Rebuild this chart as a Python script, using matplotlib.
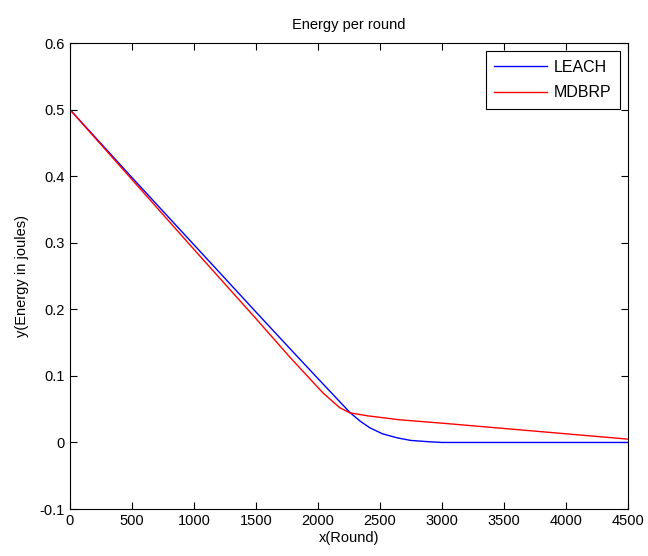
import matplotlib
matplotlib.use("Agg")
import matplotlib.pyplot as plt

plt.rcParams['font.family'] = ['Liberation Sans', 'DejaVu Sans']

leach_x = [0, 500, 1000, 1500, 1774, 2000, 2258, 2340, 2419, 2520, 2637, 2750, 2900, 3000, 4500]
leach_y = [0.5, 0.398, 0.297, 0.196, 0.141, 0.096, 0.045, 0.032, 0.022, 0.013, 0.007, 0.003, 0.001, 0.0, 0.0]

mdbrp_x = [0, 500, 1000, 1500, 1774, 2040, 2177, 2258, 2400, 2661, 3000, 3500, 4000, 4500]
mdbrp_y = [0.5, 0.395, 0.29, 0.186, 0.128, 0.0745, 0.052, 0.0445, 0.040, 0.034, 0.029, 0.021, 0.013, 0.005]

fig = plt.figure(figsize=(6.48, 5.56), dpi=100)
ax = fig.add_axes([0.108, 0.0845, 0.861, 0.838])
ax.plot(leach_x, leach_y, color='blue', lw=1, label='LEACH')
ax.plot(mdbrp_x, mdbrp_y, color='red', lw=1, label='MDBRP')

ax.set_xlim(0, 4500)
ax.set_ylim(-0.1, 0.6)
ax.set_xticks(range(0, 4501, 500))
ax.set_yticks([-0.1, 0, 0.1, 0.2, 0.3, 0.4, 0.5, 0.6])
ax.set_yticklabels(['-0.1', '0', '0.1', '0.2', '0.3', '0.4', '0.5', '0.6'])
ax.tick_params(direction='in', top=True, right=True, labelsize=10.5, length=5)
for s in ax.spines.values():
    s.set_linewidth(0.8)

ax.set_title('Energy per round', fontsize=10.5, pad=10)
ax.set_xlabel('x(Round)', fontsize=10.5, labelpad=2)
ax.set_ylabel('y(Energy in joules)', fontsize=10.5, labelpad=8)

leg = ax.legend(loc='upper right', fontsize=11.5, fancybox=False, framealpha=1,
                edgecolor='black', borderaxespad=0.5, handlelength=3.3,
                handletextpad=0.4, labelspacing=0.65, borderpad=0.55)
leg.get_frame().set_linewidth(0.8)

fig.savefig('out.png', dpi=100)
